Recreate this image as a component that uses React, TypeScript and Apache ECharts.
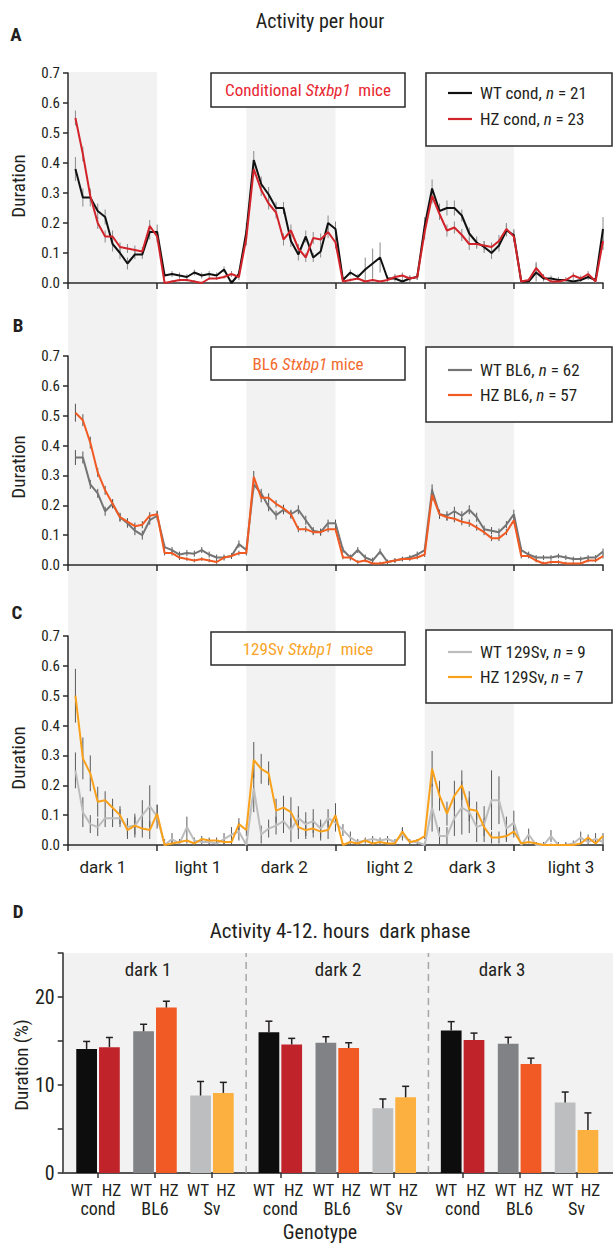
import { useEffect, useRef } from 'react';
import * as echarts from 'echarts';

const NARROW = '"Roboto Condensed", "Liberation Sans Narrow", sans-serif';
const REG = '"Roboto", "Liberation Sans", sans-serif';
const INK = '#231f20';

// hours 1..72 (3 days, alternating 12 h dark / 12 h light)
const HOURS = Array.from({ length: 72 }, (_, i) => i + 1);
const PERIOD_LABELS = ['dark 1', 'light 1', 'dark 2', 'light 2', 'dark 3', 'light 3'];
const PERIOD_LABEL_POS = [4.7, 17.5, 29.1, 43.3, 54.4, 67.7];
const DARK_PERIODS = [[0, 12], [24, 36], [48, 60]];
const Y_TICKS = [0, 0.1, 0.2, 0.3, 0.4, 0.5, 0.6, 0.7];

// Panel A – conditional
const A_WT = [
  0.38, 0.285, 0.285, 0.24, 0.22, 0.13, 0.10, 0.065, 0.095, 0.095, 0.17, 0.17,
  0.025, 0.03, 0.025, 0.02, 0.035, 0.025, 0.03, 0.025, 0.045, 0.0, 0.03, 0.17,
  0.41, 0.33, 0.295, 0.25, 0.25, 0.14, 0.095, 0.155, 0.085, 0.105, 0.20, 0.18,
  0.01, 0.035, 0.02, 0.045, 0.065, 0.085, 0.015, 0.015, 0.005, 0.015, 0.02, 0.19,
  0.315, 0.24, 0.25, 0.25, 0.225, 0.165, 0.135, 0.12, 0.10, 0.125, 0.175, 0.16,
  0.005, 0.005, 0.035, 0.015, 0.015, 0.01, 0.01, 0.005, 0.01, 0.02, 0.01, 0.18,
];
const A_WT_ERR = [
  0.04, 0.03, 0.03, 0.025, 0.025, 0.025, 0.02, 0.02, 0.015, 0.015, 0.025, 0.025,
  0.01, 0.01, 0.01, 0.01, 0.01, 0.01, 0.01, 0.01, 0.01, 0.01, 0.01, 0.03,
  0.03, 0.025, 0.025, 0.02, 0.02, 0.02, 0.02, 0.02, 0.015, 0.02, 0.025, 0.025,
  0.01, 0.01, 0.01, 0.04, 0.05, 0.05, 0.01, 0.01, 0.01, 0.01, 0.01, 0.03,
  0.03, 0.025, 0.025, 0.025, 0.02, 0.02, 0.02, 0.02, 0.02, 0.02, 0.02, 0.02,
  0.01, 0.01, 0.03, 0.01, 0.01, 0.01, 0.01, 0.01, 0.01, 0.01, 0.01, 0.04,
];
const A_HZ = [
  0.55, 0.43, 0.29, 0.20, 0.155, 0.155, 0.12, 0.115, 0.11, 0.105, 0.19, 0.155,
  0.0, 0.005, 0.01, 0.01, 0.005, 0.0, 0.015, 0.015, 0.02, 0.03, 0.02, 0.15,
  0.38, 0.31, 0.265, 0.235, 0.145, 0.175, 0.115, 0.085, 0.15, 0.145, 0.17, 0.135,
  0.005, 0.01, 0.015, 0.005, 0.01, 0.005, 0.01, 0.02, 0.025, 0.015, 0.02, 0.17,
  0.29, 0.23, 0.175, 0.185, 0.16, 0.13, 0.13, 0.125, 0.12, 0.14, 0.18, 0.155,
  0.005, 0.01, 0.05, 0.02, 0.005, 0.005, 0.01, 0.025, 0.015, 0.03, 0.005, 0.14,
];
const A_HZ_ERR = [
  0.025, 0.025, 0.02, 0.02, 0.02, 0.02, 0.015, 0.015, 0.015, 0.015, 0.02, 0.02,
  0.005, 0.005, 0.005, 0.005, 0.005, 0.005, 0.005, 0.005, 0.005, 0.01, 0.01, 0.025,
  0.025, 0.02, 0.02, 0.02, 0.02, 0.02, 0.015, 0.015, 0.02, 0.02, 0.02, 0.02,
  0.005, 0.005, 0.005, 0.005, 0.005, 0.005, 0.005, 0.01, 0.01, 0.01, 0.01, 0.025,
  0.025, 0.02, 0.02, 0.02, 0.02, 0.02, 0.015, 0.015, 0.015, 0.02, 0.02, 0.02,
  0.005, 0.005, 0.02, 0.01, 0.005, 0.005, 0.005, 0.01, 0.01, 0.01, 0.005, 0.03,
];

// Panel B – BL6
const B_WT = [
  0.36, 0.36, 0.27, 0.24, 0.18, 0.205, 0.16, 0.14, 0.115, 0.10, 0.15, 0.165,
  0.06, 0.05, 0.035, 0.04, 0.038, 0.05, 0.035, 0.025, 0.025, 0.03, 0.07, 0.05,
  0.27, 0.24, 0.195, 0.167, 0.185, 0.17, 0.185, 0.15, 0.115, 0.11, 0.14, 0.14,
  0.05, 0.025, 0.05, 0.025, 0.015, 0.045, 0.01, 0.015, 0.02, 0.025, 0.035, 0.05,
  0.25, 0.17, 0.165, 0.18, 0.165, 0.185, 0.16, 0.12, 0.115, 0.11, 0.135, 0.17,
  0.05, 0.035, 0.025, 0.025, 0.025, 0.03, 0.025, 0.02, 0.02, 0.025, 0.025, 0.045,
];
const B_WT_ERR = [
  0.025, 0.02, 0.015, 0.015, 0.015, 0.015, 0.015, 0.015, 0.015, 0.015, 0.015, 0.015,
  0.01, 0.01, 0.01, 0.01, 0.01, 0.01, 0.01, 0.01, 0.01, 0.01, 0.012, 0.01,
  0.02, 0.015, 0.015, 0.015, 0.015, 0.015, 0.015, 0.015, 0.012, 0.012, 0.012, 0.012,
  0.01, 0.01, 0.01, 0.01, 0.01, 0.01, 0.008, 0.008, 0.008, 0.008, 0.01, 0.01,
  0.02, 0.015, 0.015, 0.015, 0.015, 0.015, 0.015, 0.012, 0.012, 0.012, 0.012, 0.015,
  0.01, 0.01, 0.008, 0.008, 0.008, 0.008, 0.008, 0.008, 0.008, 0.008, 0.008, 0.01,
];
const B_HZ = [
  0.51, 0.485, 0.41, 0.31, 0.25, 0.205, 0.16, 0.145, 0.13, 0.135, 0.165, 0.17,
  0.04, 0.04, 0.025, 0.02, 0.015, 0.02, 0.015, 0.01, 0.025, 0.03, 0.04, 0.04,
  0.295, 0.225, 0.225, 0.205, 0.19, 0.17, 0.12, 0.12, 0.11, 0.11, 0.12, 0.12,
  0.025, 0.025, 0.01, 0.015, 0.005, 0.005, 0.01, 0.015, 0.02, 0.02, 0.025, 0.035,
  0.235, 0.17, 0.16, 0.155, 0.145, 0.14, 0.125, 0.11, 0.09, 0.09, 0.11, 0.15,
  0.03, 0.03, 0.015, 0.005, 0.01, 0.01, 0.005, 0.005, 0.005, 0.015, 0.015, 0.03,
];
const B_HZ_ERR = [
  0.03, 0.02, 0.02, 0.015, 0.015, 0.015, 0.012, 0.012, 0.012, 0.012, 0.012, 0.012,
  0.008, 0.008, 0.008, 0.006, 0.006, 0.006, 0.006, 0.006, 0.006, 0.006, 0.008, 0.008,
  0.02, 0.015, 0.015, 0.012, 0.012, 0.012, 0.01, 0.01, 0.01, 0.01, 0.01, 0.01,
  0.006, 0.006, 0.006, 0.006, 0.006, 0.006, 0.006, 0.006, 0.006, 0.006, 0.006, 0.008,
  0.02, 0.015, 0.012, 0.012, 0.012, 0.012, 0.01, 0.01, 0.01, 0.01, 0.01, 0.012,
  0.008, 0.008, 0.006, 0.006, 0.006, 0.006, 0.006, 0.006, 0.006, 0.006, 0.006, 0.008,
];

// Panel C – 129Sv
const C_WT = [
  0.25, 0.11, 0.07, 0.06, 0.09, 0.09, 0.09, 0.06, 0.065, 0.10, 0.13, 0.095,
  0.0, 0.02, 0.005, 0.06, 0.015, 0.01, 0.01, 0.005, 0.02, 0.035, 0.045, 0.0,
  0.19, 0.035, 0.055, 0.065, 0.08, 0.05, 0.09, 0.07, 0.08, 0.055, 0.09, 0.075,
  0.05, 0.025, 0.01, 0.015, 0.02, 0.015, 0.02, 0.01, 0.035, 0.01, 0.01, 0.0,
  0.125, 0.03, 0.03, 0.09, 0.125, 0.11, 0.06, 0.07, 0.15, 0.15, 0.055, 0.075,
  0.0, 0.035, 0.0, 0.0, 0.03, 0.0, 0.0, 0.005, 0.025, 0.01, 0.02, 0.01,
];
const C_WT_ERR = [
  0.06, 0.05, 0.03, 0.03, 0.03, 0.03, 0.03, 0.03, 0.04, 0.05, 0.07, 0.04,
  0.02, 0.02, 0.01, 0.035, 0.01, 0.01, 0.01, 0.01, 0.02, 0.025, 0.03, 0.02,
  0.08, 0.03, 0.03, 0.03, 0.04, 0.04, 0.04, 0.04, 0.04, 0.03, 0.03, 0.03,
  0.02, 0.02, 0.01, 0.01, 0.01, 0.01, 0.01, 0.01, 0.02, 0.01, 0.01, 0.01,
  0.08, 0.03, 0.03, 0.06, 0.09, 0.07, 0.05, 0.06, 0.10, 0.08, 0.04, 0.04,
  0.01, 0.02, 0.01, 0.01, 0.02, 0.01, 0.01, 0.01, 0.02, 0.01, 0.02, 0.01,
];
const C_HZ = [
  0.50, 0.29, 0.24, 0.145, 0.15, 0.125, 0.10, 0.05, 0.065, 0.055, 0.05, 0.105,
  0.0, 0.005, 0.01, 0.015, 0.005, 0.02, 0.015, 0.015, 0.01, 0.01, 0.07, 0.05,
  0.285, 0.255, 0.24, 0.115, 0.125, 0.11, 0.06, 0.05, 0.055, 0.045, 0.05, 0.10,
  0.0, 0.01, 0.005, 0.015, 0.005, 0.01, 0.005, 0.005, 0.045, 0.01, 0.015, 0.03,
  0.255, 0.165, 0.105, 0.165, 0.20, 0.12, 0.115, 0.06, 0.025, 0.025, 0.03, 0.045,
  0.005, 0.01, 0.005, 0.0, 0.0, 0.0, 0.0, 0.0, 0.005, 0.025, 0.005, 0.03,
];
const C_HZ_ERR = [
  0.09, 0.07, 0.06, 0.05, 0.03, 0.03, 0.03, 0.03, 0.03, 0.03, 0.03, 0.03,
  0.005, 0.01, 0.01, 0.01, 0.005, 0.01, 0.01, 0.01, 0.01, 0.01, 0.02, 0.02,
  0.06, 0.05, 0.04, 0.04, 0.04, 0.05, 0.04, 0.03, 0.03, 0.03, 0.03, 0.04,
  0.005, 0.005, 0.005, 0.005, 0.005, 0.005, 0.005, 0.005, 0.015, 0.005, 0.005, 0.01,
  0.06, 0.05, 0.04, 0.05, 0.05, 0.04, 0.03, 0.03, 0.02, 0.02, 0.02, 0.02,
  0.005, 0.005, 0.005, 0.005, 0.005, 0.005, 0.005, 0.005, 0.005, 0.01, 0.005, 0.01,
];

// Panel D – activity 4-12 h of dark phase (%)
const D_GROUPS = ['dark 1', 'dark 2', 'dark 3'];
const D_GENOTYPES = ['WT', 'HZ', 'WT', 'HZ', 'WT', 'HZ'];
const D_STRAINS = ['cond', 'BL6', 'Sv'];
const D_DARK1 = [14.1, 14.3, 16.1, 18.8, 8.8, 9.1];
const D_DARK1_ERR = [0.85, 1.1, 0.8, 0.72, 1.6, 1.2];
const D_DARK2 = [16.0, 14.6, 14.8, 14.2, 7.35, 8.6];
const D_DARK2_ERR = [1.25, 0.7, 0.68, 0.6, 1.06, 1.25];
const D_DARK3 = [16.2, 15.1, 14.7, 12.4, 8.0, 4.9];
const D_DARK3_ERR = [1.0, 0.8, 0.72, 0.65, 1.2, 1.93];
const D_COLORS = ['#0d0d0d', '#c1232b', '#808285', '#f15a24', '#bcbec0', '#fbb040'];

const PANELS = [
  { wt: A_WT, wtErr: A_WT_ERR, hz: A_HZ, hzErr: A_HZ_ERR, wtColor: '#111111', hzColor: '#d2232a', errColor: '#8a8a8a' },
  { wt: B_WT, wtErr: B_WT_ERR, hz: B_HZ, hzErr: B_HZ_ERR, wtColor: '#747474', hzColor: '#f15a22', errColor: '#555555' },
  { wt: C_WT, wtErr: C_WT_ERR, hz: C_HZ, hzErr: C_HZ_ERR, wtColor: '#bdbdbd', hzColor: '#f9a11b', errColor: '#5a5a5a' },
];

const GRID_TOPS = [73, 356, 636];
const GRID_H = [210, 209, 209];

// layout of panel D bars (in bar-slot units)
const D_OFFSET = 1.05;
const D_GROUP_STEP = 8;
const D_PAIR_STEP = 2.5;

function barPos(g: number, k: number) {
  return D_OFFSET + g * D_GROUP_STEP + Math.floor(k / 2) * D_PAIR_STEP + (k % 2);
}

export default function App() {
  const ref = useRef<HTMLDivElement>(null);

  useEffect(() => {
    if (!ref.current) return;
    const chart = echarts.init(ref.current, undefined, { renderer: 'svg' });

    const grids: any[] = GRID_TOPS.map((t, i) => ({ left: 68, top: t, width: 535, height: GRID_H[i] }));
    grids.push({ left: 62.7, top: 953, width: 550.3, height: 220, show: true, backgroundColor: '#f2f2f2', borderWidth: 0 });

    const axisLine = { show: true, lineStyle: { color: '#2b2b2b', width: 1.5 } };

    const xAxes: any[] = [0, 1, 2].map((i) => ({
      type: 'value', gridIndex: i, min: 0, max: 72, interval: 12,
      axisLine, axisTick: { show: true, length: 6, lineStyle: { color: '#2b2b2b', width: 1.5 } },
      axisLabel: { show: false }, splitLine: { show: false },
    }));
    xAxes.push({
      type: 'value', gridIndex: 2, min: 0, max: 72, position: 'bottom',
      axisLine: { show: false }, axisTick: { show: false }, splitLine: { show: false },
      axisLabel: {
        show: true, customValues: PERIOD_LABEL_POS, margin: 13,
        fontFamily: REG, fontSize: 17, color: INK,
        formatter: (v: number) => {
          const i = PERIOD_LABEL_POS.findIndex((p) => Math.abs(p - v) < 0.01);
          return i >= 0 ? PERIOD_LABELS[i] : '';
        },
      },
    });

    const pairCenters: number[] = [];
    D_GROUPS.forEach((_, g) => {
      D_STRAINS.forEach((_s, p) => pairCenters.push(barPos(g, p * 2) + 0.5));
    });
    const D_MAX_X = 24.15;
    const D_X = 4; // index of panel D x axis
    xAxes.push({
      type: 'value', gridIndex: 3, min: 0, max: D_MAX_X,
      axisLine: { show: true, lineStyle: { color: '#555555', width: 2 } },
      axisTick: { show: true, customValues: pairCenters, length: 5, lineStyle: { color: '#333', width: 1.5 } },
      axisLabel: { show: false },
      splitLine: { show: false },
    });

    const yAxes: any[] = [0, 1, 2].map((i) => ({
      type: 'value', gridIndex: i, min: Y_TICKS[0], max: Y_TICKS[Y_TICKS.length - 1], interval: 0.1,
      axisLine, axisTick: { show: true, length: 5, lineStyle: { color: '#2b2b2b', width: 1.5 } },
      axisLabel: { show: true, formatter: (v: number) => v.toFixed(1), fontFamily: NARROW, fontSize: 15, color: INK, margin: 8 },
      splitLine: { show: false },
    }));
    yAxes.push({
      type: 'value', gridIndex: 3, min: 0, max: 25, interval: 5,
      axisLine, axisTick: { show: true, length: 5, lineStyle: { color: '#2b2b2b', width: 1.5 } },
      axisLabel: { show: true, formatter: (v: number) => (v % 10 === 0 ? String(v) : ''), fontFamily: NARROW, fontSize: 20, color: INK, margin: 8 },
      splitLine: { show: false },
    });

    const series: any[] = [];
    PANELS.forEach((p, i) => {
      const pairs = [
        { vals: p.wt, errs: p.wtErr, color: p.wtColor },
        { vals: p.hz, errs: p.hzErr, color: p.hzColor },
      ];
      pairs.forEach((s) => {
        series.push({
          type: 'custom', xAxisIndex: i, yAxisIndex: i, z: 2,
          encode: { x: 0, y: 1 },
          data: HOURS.map((h, j) => [h, s.vals[j], s.errs[j]]),
          renderItem: (_params: any, api: any) => {
            const x = api.value(0), y = api.value(1), e = api.value(2);
            const a = api.coord([x, Math.max(0, y - e)]);
            const b = api.coord([x, y + e]);
            return { type: 'line', shape: { x1: a[0], y1: a[1], x2: b[0], y2: b[1] }, style: { stroke: p.errColor, lineWidth: 1 } };
          },
        });
      });
      pairs.forEach((s) => {
        series.push({
          type: 'line', xAxisIndex: i, yAxisIndex: i, z: 3,
          data: HOURS.map((h, j) => [h, s.vals[j]]),
          showSymbol: false, symbol: 'none',
          lineStyle: { color: s.color, width: 2 },
        });
      });
    });

    const dData: any[] = [];
    [D_DARK1, D_DARK2, D_DARK3].forEach((vals, g) => {
      const errs = [D_DARK1_ERR, D_DARK2_ERR, D_DARK3_ERR][g];
      vals.forEach((v, k) => dData.push([barPos(g, k), v, errs[k], k]));
    });
    const labelShift = [-5, 2, -2.5, 2.5, -2.5, 2.5];
    series.push({
      type: 'custom', xAxisIndex: D_X, yAxisIndex: 3, z: 3, clip: false,
      encode: { x: 0, y: 1 },
      data: dData,
      renderItem: (_params: any, api: any) => {
        const x = api.value(0), v = api.value(1), e = api.value(2), k = api.value(3);
        const w = api.size([0.91, 0])[0];
        const top = api.coord([x, v]);
        const base = api.coord([x, 0]);
        const et = api.coord([x, v + e]);
        const children: any[] = [
          { type: 'rect', shape: { x: top[0] - w / 2, y: top[1], width: w, height: base[1] - top[1] }, style: { fill: D_COLORS[k] } },
          { type: 'line', shape: { x1: top[0], y1: top[1], x2: top[0], y2: et[1] }, style: { stroke: INK, lineWidth: 1.5 } },
          { type: 'line', shape: { x1: top[0] - 3.5, y1: et[1], x2: top[0] + 3.5, y2: et[1] }, style: { stroke: INK, lineWidth: 1.5 } },
          {
            type: 'text', x: top[0] + labelShift[k], y: base[1] + 17,
            style: { text: D_GENOTYPES[k], fontSize: 17, fontFamily: NARROW, fill: INK, textAlign: 'center', textVerticalAlign: 'middle' },
          },
        ];
        if (k % 2 === 1) {
          const c = api.coord([x - 0.5, 0]);
          children.push({
            type: 'text', x: c[0], y: base[1] + 35,
            style: { text: D_STRAINS[(k - 1) / 2], fontSize: 18, fontFamily: NARROW, fill: INK, textAlign: 'center', textVerticalAlign: 'middle' },
          });
        }
        return { type: 'group', children };
      },
    });
    // dashed separators between dark phases
    series.push({
      type: 'custom', xAxisIndex: D_X, yAxisIndex: 3, z: 1,
      encode: { x: 0 },
      data: [[D_OFFSET + D_GROUP_STEP - 1], [D_OFFSET + 2 * D_GROUP_STEP - 1]],
      renderItem: (_params: any, api: any) => {
        const x = api.value(0);
        const a = api.coord([x, 0]);
        const b = api.coord([x, 25]);
        return { type: 'line', shape: { x1: a[0], y1: a[1], x2: b[0], y2: b[1] }, style: { stroke: '#a6a6a6', lineWidth: 1.5, lineDash: [7, 5] } };
      },
    });

    const txt = (text: string, x: number, y: number, size: number, opts: any = {}) => ({
      type: 'text', x, y, z: 20, rotation: opts.rotation || 0,
      style: {
        text, fontSize: size, fontFamily: opts.family || NARROW, fontWeight: opts.weight || 'normal',
        fill: opts.fill || INK, textAlign: opts.align || 'center', textVerticalAlign: 'middle',
        rich: opts.rich,
      },
    });
    const italic = (size: number, fill: string) => ({ i: { fontStyle: 'italic', fontSize: size, fontFamily: NARROW, fill } });
    const box = (x: number, y: number, w: number, h: number) => ({
      type: 'rect', z: 19, shape: { x, y, width: w, height: h },
      style: { fill: '#ffffff', stroke: '#2b2b2b', lineWidth: 1.5 },
    });
    const lineSample = (y: number, color: string) => ({
      type: 'line', z: 20, shape: { x1: 448, y1: y, x2: 472, y2: y }, style: { stroke: color, lineWidth: 2.2 },
    });

    const titles = [
      { text: 'Conditional {i|Stxbp1}  mice', fill: '#e8262f', top: 73, h: 34 },
      { text: 'BL6 {i|Stxbp1} mice', fill: '#f26a2e', top: 347, h: 33 },
      { text: '129Sv {i|Stxbp1}  mice', fill: '#f8a325', top: 632, h: 33 },
    ];
    const legends = [
      { top: 73, h: 73, rows: [93, 119], items: ['WT cond, {i|n} = 21', 'HZ cond, {i|n} = 23'] },
      { top: 347, h: 75, rows: [370, 395], items: ['WT BL6, {i|n} = 62', 'HZ BL6, {i|n} = 57'] },
      { top: 630, h: 73, rows: [652, 677], items: ['WT 129Sv, {i|n} = 9', 'HZ 129Sv, {i|n} = 7'] },
    ];

    const graphic: any[] = [
      txt('Activity per hour', 320, 21, 20),
      txt('A', 16, 34, 19, { weight: 'bold' }),
      txt('B', 18, 325, 19, { weight: 'bold' }),
      txt('C', 17, 612, 19, { weight: 'bold' }),
      txt('D', 18, 911, 19, { weight: 'bold' }),
      txt('Duration', 18, 186, 19, { rotation: Math.PI / 2 }),
      txt('Duration', 18, 467, 19, { rotation: Math.PI / 2 }),
      txt('Duration', 18, 758, 19, { rotation: Math.PI / 2 }),
      txt('Activity 4-12. hours  dark phase', 340, 931, 21),
      txt('Duration (%)', 21, 1065, 19, { rotation: Math.PI / 2 }),
      txt('Genotype', 320, 1232, 20),
      txt(D_GROUPS[0], 148, 969, 19),
      txt(D_GROUPS[1], 338, 969, 19),
      txt(D_GROUPS[2], 502, 969, 19),
    ];
    titles.forEach((t) => {
      graphic.push(box(211, t.top, 194, t.h));
      graphic.push(txt(t.text, 308, t.top + t.h / 2, 17, { fill: t.fill, rich: italic(17, t.fill) }));
    });
    legends.forEach((l, i) => {
      graphic.push(box(426, l.top, 186, l.h));
      graphic.push(lineSample(l.rows[0], PANELS[i].wtColor));
      graphic.push(lineSample(l.rows[1], PANELS[i].hzColor));
      graphic.push(txt(l.items[0], 480, l.rows[0], 17, { align: 'left', rich: italic(17, INK) }));
      graphic.push(txt(l.items[1], 480, l.rows[1], 17, { align: 'left', rich: italic(17, INK) }));
    });

    chart.setOption({
      animation: false,
      backgroundColor: '#ffffff',
      grid: grids,
      xAxis: xAxes,
      yAxis: yAxes,
      series,
      graphic,
    });

    // dark-phase shading spanning panels A-C
    const shades = DARK_PERIODS.map(([s, e]) => {
      const x1 = chart.convertToPixel({ xAxisIndex: 0 }, s) as number;
      const x2 = chart.convertToPixel({ xAxisIndex: 0 }, e) as number;
      return { type: 'rect', z: -10, shape: { x: x1, y: 72, width: x2 - x1, height: 778 }, style: { fill: '#f2f2f2' } };
    });
    chart.setOption({ graphic: [...graphic, ...shades] });

    return () => chart.dispose();
  }, []);

  return <div ref={ref} style={{ position: 'absolute', left: 0, top: 0, width: 613, height: 1245 }} />;
}
